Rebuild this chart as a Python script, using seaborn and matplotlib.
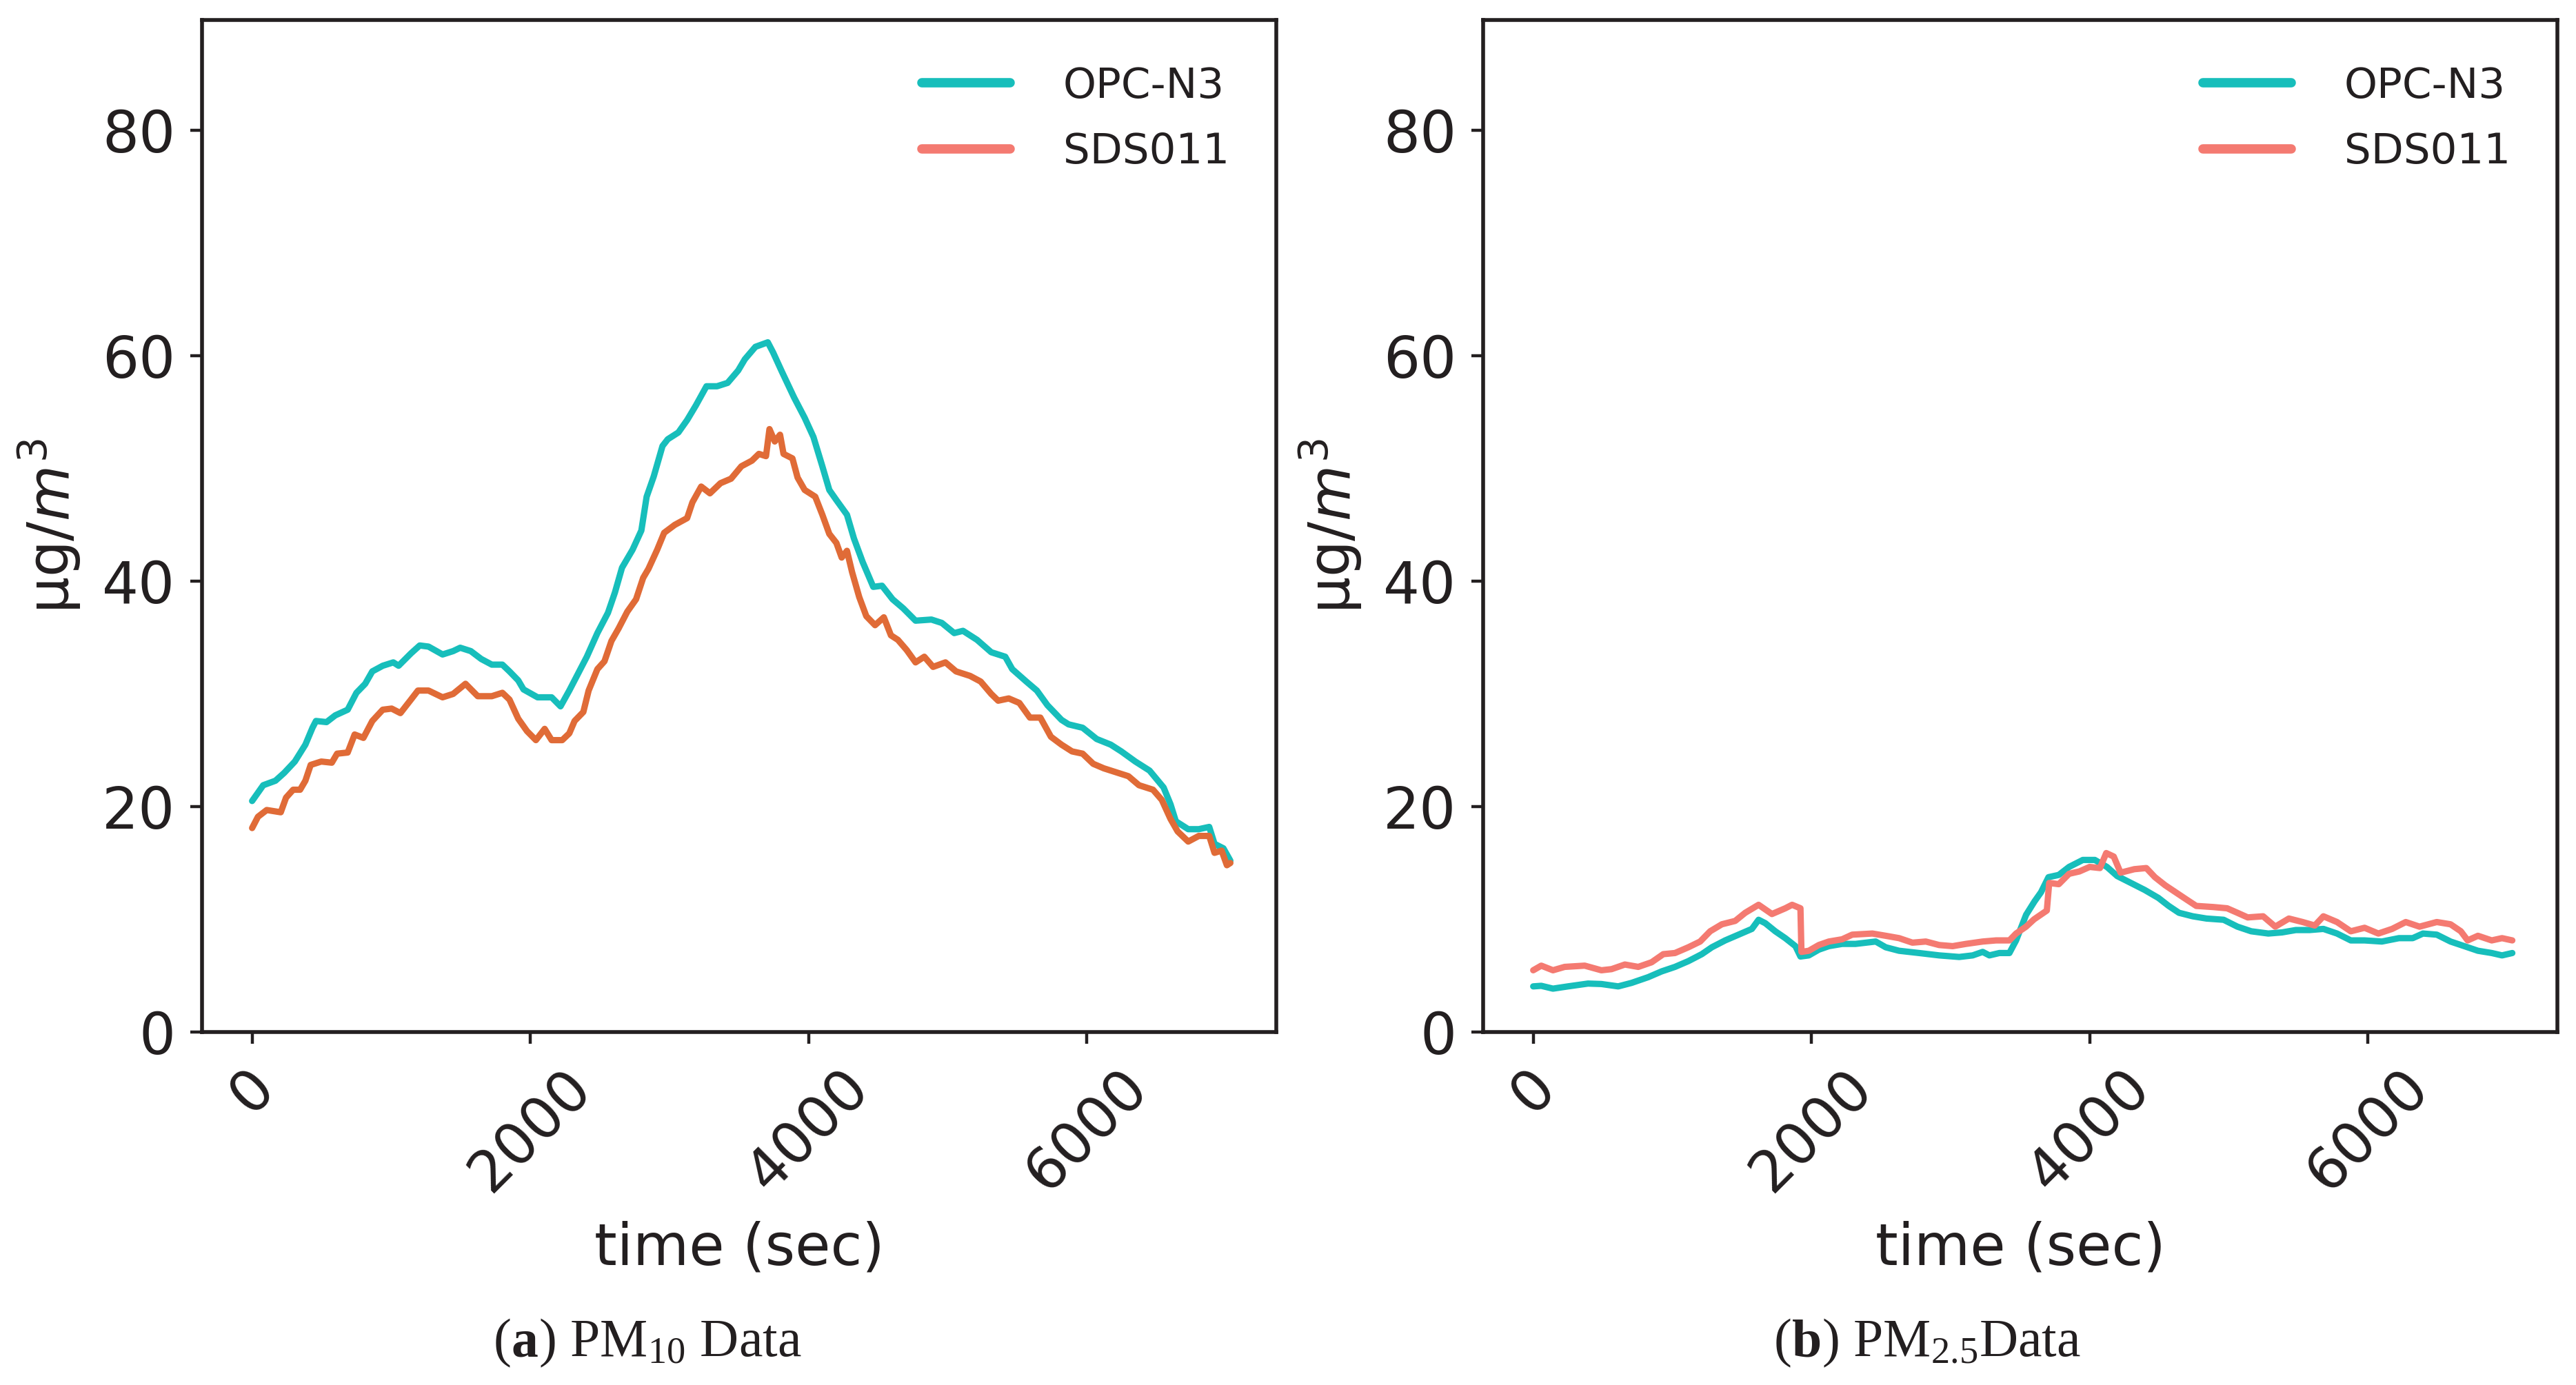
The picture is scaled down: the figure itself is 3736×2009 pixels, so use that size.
import numpy as np
import pandas as pd
import matplotlib
matplotlib.use("Agg")
import matplotlib.pyplot as plt
import seaborn as sns
from matplotlib.lines import Line2D
from matplotlib.offsetbox import TextArea, HPacker, AnnotationBbox

# ---------------- data ----------------
series_names = ["OPC-N3", "SDS011"]
x_ticks = [0, 2000, 4000, 6000]
y_ticks = [0, 20, 40, 60, 80]

pm10_opc_t = [0, 80, 168, 231, 307, 383, 434, 459, 535, 598, 687, 750, 813, 864, 939, 1015, 1053, 1142,
              1205, 1268, 1369, 1445, 1496, 1572, 1647, 1723, 1799, 1850, 1913, 1951, 2052, 2153, 2217,
              2280, 2343, 2406, 2482, 2558, 2608, 2659, 2735, 2798, 2836, 2887, 2950, 2988, 3064, 3127,
              3190, 3266, 3342, 3418, 3494, 3542, 3618, 3707, 3745, 3808, 3896, 3972, 4035, 4099, 4149,
              4200, 4276, 4326, 4389, 4465, 4528, 4604, 4680, 4769, 4883, 4958, 5047, 5110, 5211, 5313,
              5414, 5464, 5565, 5641, 5717, 5818, 5869, 5970, 6071, 6172, 6248, 6349, 6451, 6552, 6602,
              6640, 6729, 6805, 6880, 6918, 6982, 7032]
pm10_opc = [20.5, 21.9, 22.3, 23.0, 24.0, 25.5, 27.0, 27.6, 27.5, 28.1, 28.6, 30.1, 30.9, 32.0, 32.5, 32.8,
            32.5, 33.6, 34.3, 34.2, 33.5, 33.8, 34.1, 33.8, 33.1, 32.6, 32.6, 32.0, 31.2, 30.4, 29.7, 29.7,
            28.9, 30.3, 31.8, 33.3, 35.4, 37.2, 39.0, 41.2, 42.8, 44.5, 47.5, 49.3, 52.0, 52.6, 53.2, 54.3,
            55.6, 57.3, 57.3, 57.6, 58.7, 59.7, 60.8, 61.2, 60.3, 58.6, 56.3, 54.5, 52.8, 50.2, 48.1, 47.2,
            45.9, 43.8, 41.7, 39.5, 39.6, 38.4, 37.6, 36.5, 36.6, 36.3, 35.4, 35.6, 34.8, 33.7, 33.3, 32.2,
            31.1, 30.3, 29.0, 27.7, 27.3, 27.0, 26.0, 25.5, 24.9, 24.0, 23.2, 21.7, 20.2, 18.7, 18.0, 18.0,
            18.2, 16.7, 16.3, 15.2]

pm10_sds_t = [0, 42, 105, 206, 244, 295, 345, 383, 421, 497, 573, 611, 687, 737, 800, 864, 939, 1003, 1066,
              1142, 1192, 1268, 1369, 1445, 1534, 1622, 1723, 1799, 1850, 1913, 1976, 2040, 2103, 2153,
              2229, 2280, 2318, 2381, 2419, 2482, 2533, 2583, 2634, 2697, 2760, 2811, 2849, 2912, 2962,
              3038, 3127, 3165, 3228, 3291, 3367, 3443, 3517, 3593, 3643, 3694, 3719, 3757, 3795, 3820,
              3884, 3921, 3972, 4048, 4099, 4149, 4200, 4238, 4276, 4313, 4364, 4415, 4478, 4541, 4592,
              4642, 4705, 4769, 4832, 4895, 4984, 5060, 5161, 5237, 5313, 5363, 5439, 5515, 5591, 5666,
              5742, 5818, 5894, 5970, 6046, 6122, 6223, 6299, 6375, 6476, 6539, 6602, 6653, 6729, 6805,
              6880, 6918, 6969, 7007, 7032]
pm10_sds = [18.1, 19.1, 19.7, 19.5, 20.8, 21.5, 21.5, 22.3, 23.7, 24.0, 23.9, 24.7, 24.8, 26.4, 26.1, 27.6,
            28.6, 28.7, 28.3, 29.5, 30.3, 30.3, 29.7, 30.0, 30.9, 29.8, 29.8, 30.1, 29.5, 27.8, 26.7, 25.9,
            26.9, 25.9, 25.9, 26.5, 27.6, 28.4, 30.3, 32.2, 32.9, 34.7, 35.8, 37.3, 38.4, 40.3, 41.1, 42.8,
            44.3, 45.0, 45.6, 47.0, 48.4, 47.8, 48.7, 49.1, 50.2, 50.7, 51.3, 51.1, 53.5, 52.4, 53.0, 51.3,
            50.9, 49.2, 48.1, 47.5, 45.9, 44.2, 43.4, 42.1, 42.7, 40.8, 38.6, 36.9, 36.1, 36.8, 35.2, 34.8,
            33.9, 32.8, 33.3, 32.4, 32.8, 32.0, 31.6, 31.1, 30.0, 29.4, 29.6, 29.2, 27.9, 27.9, 26.2, 25.5,
            24.9, 24.7, 23.8, 23.4, 23.0, 22.7, 21.9, 21.5, 20.6, 18.9, 17.8, 16.9, 17.4, 17.4, 15.9, 16.1,
            14.8, 15.0]

pm25_opc_t = [0, 58, 142, 250, 394, 490, 611, 707, 827, 923, 1019, 1115, 1212, 1284, 1380, 1476, 1572,
              1620, 1668, 1740, 1812, 1885, 1921, 1981, 2053, 2125, 2221, 2317, 2462, 2534, 2630, 2774,
              2918, 3062, 3159, 3231, 3279, 3351, 3423, 3471, 3543, 3604, 3650, 3704, 3778, 3852, 3951,
              4037, 4124, 4198, 4296, 4395, 4494, 4568, 4642, 4741, 4840, 4963, 5062, 5161, 5284, 5383,
              5482, 5581, 5680, 5778, 5877, 5976, 6100, 6223, 6322, 6396, 6495, 6594, 6693, 6791, 6890,
              6964, 7038]
pm25_opc = [4.05, 4.1, 3.85, 4.05, 4.3, 4.26, 4.05, 4.36, 4.87, 5.38, 5.78, 6.29, 6.91, 7.52, 8.13, 8.64,
            9.15, 9.96, 9.66, 8.94, 8.33, 7.62, 6.7, 6.8, 7.31, 7.62, 7.82, 7.82, 8.03, 7.52, 7.21, 7.01,
            6.8, 6.66, 6.8, 7.11, 6.8, 7.01, 7.01, 8.13, 10.4, 11.6, 12.4, 13.74, 13.94, 14.65, 15.27,
            15.27, 14.65, 13.84, 13.23, 12.61, 11.9, 11.19, 10.58, 10.27, 10.07, 9.96, 9.35, 8.94, 8.74,
            8.84, 9.05, 9.05, 9.15, 8.74, 8.13, 8.13, 8.03, 8.33, 8.33, 8.74, 8.64, 8.03, 7.62, 7.21,
            7.01, 6.8, 7.01]

pm25_sds_t = [0, 58, 142, 226, 370, 490, 563, 659, 755, 851, 935, 1019, 1115, 1200, 1272, 1356, 1452, 1524,
              1620, 1716, 1812, 1861, 1921, 1928, 1981, 2053, 2125, 2221, 2293, 2438, 2534, 2630, 2726,
              2822, 2918, 3015, 3111, 3231, 3327, 3423, 3471, 3543, 3600, 3692, 3709, 3778, 3852, 3926,
              4000, 4074, 4119, 4173, 4222, 4321, 4407, 4469, 4543, 4617, 4691, 4766, 4889, 4988, 5062,
              5136, 5247, 5334, 5432, 5531, 5618, 5680, 5778, 5877, 5976, 6075, 6174, 6272, 6371, 6495,
              6594, 6668, 6717, 6791, 6890, 6964, 7038]
pm25_sds = [5.48, 5.89, 5.48, 5.78, 5.89, 5.48, 5.58, 5.99, 5.78, 6.19, 6.91, 7.01, 7.52, 8.03, 8.94, 9.56,
            9.86, 10.58, 11.29, 10.47, 10.98, 11.29, 10.98, 7.11, 7.21, 7.72, 8.03, 8.23, 8.64, 8.74, 8.54,
            8.33, 7.93, 8.03, 7.72, 7.62, 7.82, 8.03, 8.13, 8.13, 8.74, 9.35, 10.0, 10.78, 13.23, 13.12,
            14.04, 14.25, 14.65, 14.55, 15.88, 15.57, 14.14, 14.45, 14.55, 13.74, 13.02, 12.41, 11.8,
            11.19, 11.09, 10.98, 10.58, 10.17, 10.27, 9.35, 10.07, 9.76, 9.45, 10.27, 9.76, 8.94, 9.25,
            8.74, 9.15, 9.76, 9.35, 9.76, 9.56, 8.94, 8.13, 8.54, 8.13, 8.33, 8.13]

# ---------------- style ----------------
sns.set_theme(style="ticks")
plt.rcParams["font.family"] = ["DejaVu Sans"]
TEXT = "#231f20"
TEAL = "#17bebb"
SALMON = "#f47a71"
ORANGE = "#e06b37"

W, H, DPI = 3737, 2009, 200
fig = plt.figure(figsize=(W / DPI, H / DPI), dpi=DPI)
fig.patch.set_facecolor("white")

ax_left = fig.add_axes([293 / W, 1 - 1497 / H, (1851 - 293) / W, (1497 - 29) / H])
ax_right = fig.add_axes([2151 / W, 1 - 1497 / H, (3709 - 2151) / W, (1497 - 29) / H])

panels = [
    (ax_left, pm10_opc_t, pm10_opc, pm10_sds_t, pm10_sds, ORANGE),
    (ax_right, pm25_opc_t, pm25_opc, pm25_sds_t, pm25_sds, SALMON),
]

for ax, t1, v1, t2, v2, c2 in panels:
    d1 = pd.DataFrame({"t": t1, "v": v1})
    d2 = pd.DataFrame({"t": t2, "v": v2})
    sns.lineplot(data=d1, x="t", y="v", ax=ax, color=TEAL, lw=3.3, estimator=None, sort=False)
    sns.lineplot(data=d2, x="t", y="v", ax=ax, color=c2, lw=3.3, estimator=None, sort=False)
    ax.set_xlim(-360, 7362)
    ax.set_ylim(0, 89.8)
    ax.set_xticks(x_ticks)
    ax.set_yticks(y_ticks)
    ax.tick_params(axis="both", labelsize=30, length=6, width=1.6, pad=8, colors=TEXT)
    plt.setp(ax.get_xticklabels(), rotation=45)
    ax.set_xlabel("time (sec)", fontsize=30, color=TEXT, labelpad=10)
    ax.set_ylabel("µg/$m^3$", fontsize=30, color=TEXT, labelpad=10)
    for sp in ax.spines.values():
        sp.set_visible(True)
        sp.set_linewidth(2.0)
        sp.set_color(TEXT)
    handles = [Line2D([0], [0], color=TEAL, lw=4.9), Line2D([0], [0], color=SALMON, lw=4.9)]
    ax.legend(handles, series_names, loc="upper right", bbox_to_anchor=(1 - 13 / 1558, 0.992),
              frameon=False, fontsize=22, handlelength=2.1, handletextpad=1.26,
              labelspacing=0.6, labelcolor=TEXT)

# ---------------- captions ----------------
cap_font = dict(family="Liberation Serif", size=28, color=TEXT)
captions = [("a", ") PM$\\mathregular{_{10}}$ Data", 0.2513),
            ("b", ") PM$\\mathregular{_{2.5}}$Data", 0.748)]
for letter, rest, xc in captions:
    parts = [TextArea("(", textprops=cap_font),
             TextArea(letter, textprops=dict(cap_font, weight="bold")),
             TextArea(rest, textprops=cap_font)]
    box = HPacker(children=parts, align="baseline", pad=0, sep=0)
    ab = AnnotationBbox(box, (xc, 0.030), xycoords="figure fraction", frameon=False,
                        box_alignment=(0.5, 0.5))
    fig.add_artist(ab)

fig.savefig("out.png", dpi=DPI, facecolor="white")
